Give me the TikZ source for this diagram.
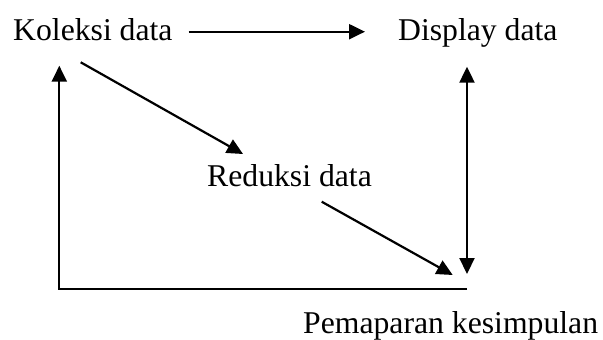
\documentclass[tikz,border=0pt]{standalone}
\usepackage{fontspec}
\setmainfont{Liberation Serif}
\usetikzlibrary{arrows.meta}
\begin{document}
\begin{tikzpicture}[x=1pt,y=-1pt,
  lbl/.style={inner sep=0pt, anchor=base west, font=\fontsize{31.7}{38}\selectfont},
  con/.style={line width=2.2pt},
  arr/.style={con, -{Triangle[length=16pt,width=15pt]}},
  darr/.style={con, {Triangle[length=16pt,width=15pt]}-{Triangle[length=16pt,width=15pt]}}]
\useasboundingbox (0,0) rectangle (603,340);
\node[lbl] (kol) at (13,40) {Koleksi data};
\node[lbl] (dis) at (398,40) {Display data};
\node[lbl] (red) at (207,186) {Reduksi data};
\node[lbl] (pem) at (303,333) {Pemaparan kesimpulan};
% top arrow
\draw[arr] ([xshift=16pt,yshift=8.3pt]kol.base east) -- ([xshift=-33pt,yshift=8.3pt]dis.base west);
% Koleksi -> Reduksi
\draw[arr] ([xshift=67.7pt,yshift=-22.3pt]kol.base west) -- ([xshift=36pt,yshift=32pt]red.base west);
% Reduksi -> Pemaparan
\draw[arr] ([xshift=114.7pt,yshift=-15.7pt]red.base west) -- ([xshift=149.7pt,yshift=58pt]pem.base west);
% Display <-> Pemaparan
\draw[darr] ([xshift=69pt,yshift=-26.7pt]dis.base west) -- ([xshift=164pt,yshift=59pt]pem.base west);
% Pemaparan -> Koleksi loop
\draw[arr] ([xshift=164pt,yshift=44pt]pem.base west) -| ([xshift=46.3pt,yshift=-25.7pt]kol.base west);
\end{tikzpicture}
\end{document}
